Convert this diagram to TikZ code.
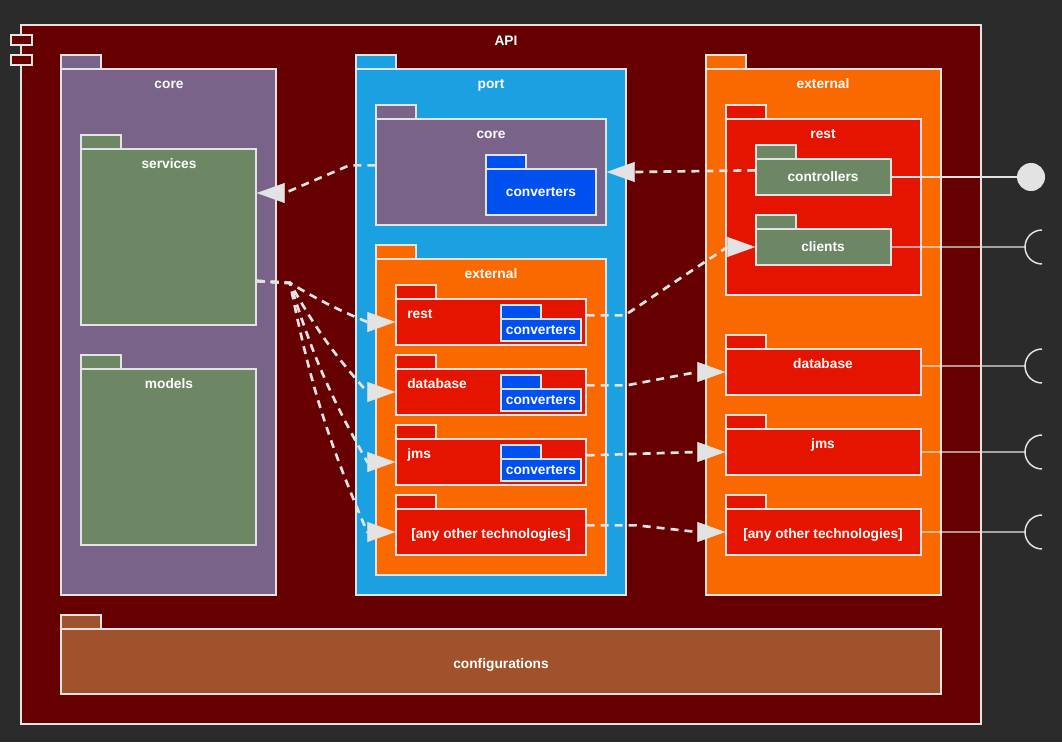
\documentclass[tikz,border=0pt]{standalone}
\usepackage{fontspec}
\setmainfont{Liberation Sans}
\usetikzlibrary{arrows.meta,fit}
\definecolor{bgc}{HTML}{2B2B2B}
\definecolor{apic}{HTML}{660000}
\definecolor{linec}{HTML}{E3E3E3}
\definecolor{mauvec}{HTML}{7A6389}
\definecolor{olivec}{HTML}{6D8764}
\definecolor{cyanc}{HTML}{1BA1E2}
\definecolor{orangec}{HTML}{FA6800}
\definecolor{redc}{HTML}{E51400}
\definecolor{cobaltc}{HTML}{0050EF}
\definecolor{siennac}{HTML}{A0522D}
\tikzset{
  pkg/.style={draw=linec, line width=1.1pt, inner sep=0pt},
  tab/.style={draw=linec, line width=1.1pt},
  lbl/.style={text=white, font=\bfseries\fontsize{10.3}{12}\selectfont, inner sep=0pt, text height=9.5pt, text depth=1pt},
  dep/.style={draw=linec, line width=2pt, dash pattern=on 6pt off 4.5pt, -{Triangle[length=21pt,width=15pt,line width=0.3pt]}},
  wire/.style={draw=linec, line width=1.1pt},
  lolli/.style={circle, fill=linec, minimum size=21pt, inner sep=0pt},
}

\begin{document}
\begin{tikzpicture}[x=0.75pt, y=-0.75pt]
\fill[bgc] (0,0) rectangle (1062,742);
\useasboundingbox (0,0) rectangle (1062,742);
% API component
\node[pkg, fill=apic, fit={(21,25) (981,724)}] (api) {};
\draw[tab, fill=apic] (11,35) rectangle (32,45);
\draw[tab, fill=apic] (11,55) rectangle (32,65);
\node[lbl] at (506,40) {API};
% core
\draw[tab, fill=mauvec] (61,55) rectangle (101,69);
\node[pkg, fill=mauvec, fit={(61,69) (276,595)}] (core) {};
\node[lbl] at (169,83) {core};
\draw[tab, fill=olivec] (81,135) rectangle (121,149);
\node[pkg, fill=olivec, fit={(81,149) (256,325)}] (services) {};
\node[lbl] at (169,163) {services};
\draw[tab, fill=olivec] (81,355) rectangle (121,369);
\node[pkg, fill=olivec, fit={(81,369) (256,545)}] (models) {};
\node[lbl] at (169,383) {models};
% port
\draw[tab, fill=cyanc] (356,55) rectangle (396,69);
\node[pkg, fill=cyanc, fit={(356,69) (626,595)}] (port) {};
\node[lbl] at (491,83) {port};
\draw[tab, fill=mauvec] (376,105) rectangle (416,119);
\node[pkg, fill=mauvec, fit={(376,119) (606,225)}] (pcore) {};
\node[lbl] at (491,133) {core};
\draw[tab, fill=cobaltc] (486,155) rectangle (526,169);
\node[pkg, fill=cobaltc, fit={(486,169) (596,215)}] (pcoreconv) {};
\node[lbl] at (541,191) {converters};
\draw[tab, fill=orangec] (376,245) rectangle (416,259);
\node[pkg, fill=orangec, fit={(376,259) (606,575)}] (pext) {};
\node[lbl] at (491,273) {external};
\draw[tab, fill=redc] (396,285) rectangle (436,299);
\node[pkg, fill=redc, fit={(396,299) (586,345)}] (prest) {};
\node[lbl, anchor=west] at (407,313) {rest};
\draw[tab, fill=cobaltc] (501,305) rectangle (541,319);
\node[pkg, fill=cobaltc, fit={(501,319) (581,341)}] (prestconv) {};
\node[lbl] at (541,329) {converters};
\draw[tab, fill=redc] (396,355) rectangle (436,369);
\node[pkg, fill=redc, fit={(396,369) (586,415)}] (pdb) {};
\node[lbl, anchor=west] at (407,383) {database};
\draw[tab, fill=cobaltc] (501,375) rectangle (541,389);
\node[pkg, fill=cobaltc, fit={(501,389) (581,411)}] (pdbconv) {};
\node[lbl] at (541,399) {converters};
\draw[tab, fill=redc] (396,425) rectangle (436,439);
\node[pkg, fill=redc, fit={(396,439) (586,485)}] (pjms) {};
\node[lbl, anchor=west] at (407,453) {jms};
\draw[tab, fill=cobaltc] (501,445) rectangle (541,459);
\node[pkg, fill=cobaltc, fit={(501,459) (581,481)}] (pjmsconv) {};
\node[lbl] at (541,469) {converters};
\draw[tab, fill=redc] (396,495) rectangle (436,509);
\node[pkg, fill=redc, fit={(396,509) (586,555)}] (pany) {};
\node[lbl] at (491,533) {[any other technologies]};
% external
\draw[tab, fill=orangec] (706,55) rectangle (746,69);
\node[pkg, fill=orangec, fit={(706,69) (941,595)}] (ext) {};
\node[lbl] at (823,83) {external};
\draw[tab, fill=redc] (726,105) rectangle (766,119);
\node[pkg, fill=redc, fit={(726,119) (921,295)}] (erest) {};
\node[lbl] at (823,133) {rest};
\draw[tab, fill=olivec] (756,145) rectangle (796,159);
\node[pkg, fill=olivec, fit={(756,159) (891,195)}] (ctrl) {};
\node[lbl] at (823,176) {controllers};
\draw[tab, fill=olivec] (756,215) rectangle (796,229);
\node[pkg, fill=olivec, fit={(756,229) (891,265)}] (clients) {};
\node[lbl] at (823,246) {clients};
\draw[tab, fill=redc] (726,335) rectangle (766,349);
\node[pkg, fill=redc, fit={(726,349) (921,395)}] (edb) {};
\node[lbl] at (823,363) {database};
\draw[tab, fill=redc] (726,415) rectangle (766,429);
\node[pkg, fill=redc, fit={(726,429) (921,475)}] (ejms) {};
\node[lbl] at (823,443) {jms};
\draw[tab, fill=redc] (726,495) rectangle (766,509);
\node[pkg, fill=redc, fit={(726,509) (921,555)}] (eany) {};
\node[lbl] at (823,533) {[any other technologies]};
% configurations
\draw[tab, fill=siennac] (61,615) rectangle (101,629);
\node[pkg, fill=siennac, fit={(61,629) (941,694)}] (config) {};
\node[lbl] at (501,663) {configurations};
% dependencies
\coordinate (fan) at (290,283);
\draw[dep] ([yshift=5pt]pcore.west) -- ++(-26,0) -- ([xshift=21pt,yshift=33pt]services.east) -- ([yshift=33pt]services.east);
\draw[dep] ([yshift=5pt]ctrl.west) -- ([xshift=21pt]pcore.east) -- (pcore.east);
\draw[dep] ([yshift=-33pt]services.east) -- (fan) to[bend right=4] ([xshift=-21pt]prest.west) -- (prest.west);
\draw[dep] ([yshift=-33pt]services.east) -- (fan) to[bend right=6] ([xshift=-21pt]pdb.west) -- (pdb.west);
\draw[dep] ([yshift=-33pt]services.east) -- (fan) to[bend right=6] ([xshift=-21pt]pjms.west) -- (pjms.west);
\draw[dep] ([yshift=-33pt]services.east) -- (fan) to[bend right=6] ([xshift=-21pt]pany.west) -- (pany.west);
\draw[dep] ([yshift=5pt]prest.east) -- ++(38,0) -- ([xshift=-21pt]clients.west) -- (clients.west);
\draw[dep] ([yshift=5pt]pdb.east) -- ++(40,0) -- ([xshift=-21pt]edb.west) -- (edb.west);
\draw[dep] ([yshift=5pt]pjms.east) -- ([xshift=-21pt]ejms.west) -- (ejms.west);
\draw[dep] ([yshift=5pt]pany.east) -- ++(50,0) -- ([xshift=-21pt]eany.west) -- (eany.west);
% interfaces
\node[lolli] (ctrlport) at (1031,177) {};
\draw[wire] (ctrl.east) -- (ctrlport);
\coordinate (clientsock) at (1025,247);
\coordinate (dbsock) at (1025,366);
\coordinate (jmssock) at (1025,452);
\coordinate (anysock) at (1025,532);
\draw[wire] (clients.east) -- (clientsock) ++(17,-17) arc[start angle=90, end angle=270, radius=12.75pt];
\draw[wire] ([yshift=4.5pt]edb.east) -- (dbsock) ++(17,-17) arc[start angle=90, end angle=270, radius=12.75pt];
\draw[wire] (ejms.east) -- (jmssock) ++(17,-17) arc[start angle=90, end angle=270, radius=12.75pt];
\draw[wire] (eany.east) -- (anysock) ++(17,-17) arc[start angle=90, end angle=270, radius=12.75pt];
\end{tikzpicture}
\end{document}
